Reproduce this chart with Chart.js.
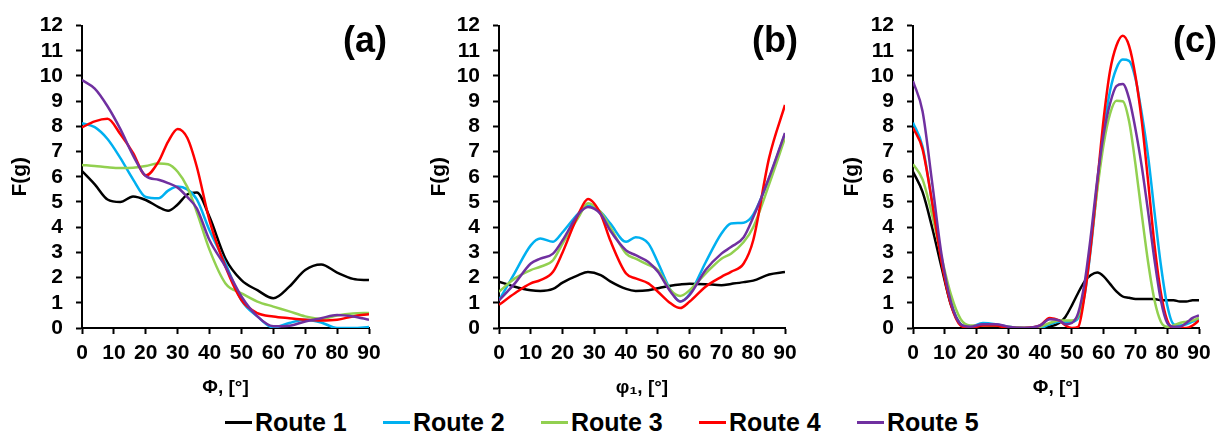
<!DOCTYPE html>
<html>
<head>
<meta charset="utf-8">
<script src="https://cdn.jsdelivr.net/npm/chart.js@4.4.1/dist/chart.umd.min.js"></script>
<style>
  body { margin: 0; background: #fff; }
  #wrap { position: relative; width: 1222px; height: 434px; overflow: hidden; font-family: "Liberation Sans", Arial, sans-serif; }
  canvas { position: absolute; top: 0; }
  .tag { position: absolute; top: 20px; font-size: 36px; line-height: 40px; font-weight: bold; text-align: right; width: 80px; }
  #legend { position: absolute; left: 0; top: 408px; width: 1222px; height: 28px; font-size: 25px; font-weight: bold; line-height: 28px; }
  #legend .item { position: absolute; top: 0; display: flex; align-items: center; white-space: nowrap; }
  #legend .swatch { width: 27px; height: 3px; margin-right: 3px; }
</style>
</head>
<body>
<div id="wrap">
  <canvas id="pa" width="400" height="400" style="left:0px"></canvas>
  <canvas id="pb" width="400" height="400" style="left:419px"></canvas>
  <canvas id="pc" width="390" height="400" style="left:832px"></canvas>
  <div class="tag" style="left:307px">(a)</div>
  <div class="tag" style="left:718px">(b)</div>
  <div class="tag" style="left:1137px">(c)</div>
  <div id="legend"></div>
</div>
<script>
// route names and line colours
const routeNames = ['Route 1', 'Route 2', 'Route 3', 'Route 4', 'Route 5'];
const routeColors = ['#000000', '#00B0F0', '#92D050', '#FF0000', '#7030A0'];

// panel (a): F(g) vs Φ
const aX = [0, 4, 8, 12, 16, 20, 24, 27, 30, 33, 36, 40, 45, 50, 55, 60, 65, 70, 75, 80, 85, 90];
const aR1 = [6.23, 5.7, 5.1, 5.0, 5.22, 5.08, 4.8, 4.65, 4.9, 5.3, 5.38, 4.4, 2.75, 1.9, 1.5, 1.18, 1.64, 2.3, 2.52, 2.2, 1.95, 1.9];
const aR2 = [8.13, 7.97, 7.5, 6.75, 5.9, 5.2, 5.15, 5.45, 5.62, 5.5, 5.1, 3.87, 2.56, 1.1, 0.46, 0.02, 0.2, 0.33, 0.22, 0.0, 0.0, 0.04];
const aR3 = [6.47, 6.43, 6.38, 6.35, 6.36, 6.43, 6.53, 6.5, 6.2, 5.6, 4.6, 3.1, 1.77, 1.38, 1.05, 0.85, 0.66, 0.46, 0.36, 0.5, 0.58, 0.6];
const aR4 = [7.96, 8.2, 8.3, 7.7, 6.95, 6.05, 6.6, 7.4, 7.9, 7.55, 6.4, 4.26, 2.43, 1.11, 0.59, 0.46, 0.39, 0.33, 0.3, 0.33, 0.46, 0.55];
const aR5 = [9.84, 9.5, 8.8, 7.9, 6.85, 6.03, 5.88, 5.75, 5.57, 5.2, 4.75, 3.48, 2.43, 1.25, 0.46, 0.07, 0.09, 0.26, 0.39, 0.52, 0.46, 0.33];

// panel (b): F(g) vs φ1
const bX = [0, 5, 10, 13, 17, 20, 25, 28, 32, 35, 40, 43, 47, 50, 54, 57, 60, 65, 70, 73, 77, 80, 85, 90];
const bR1 = [1.84, 1.64, 1.5, 1.47, 1.55, 1.8, 2.1, 2.22, 2.1, 1.85, 1.55, 1.47, 1.5, 1.58, 1.68, 1.73, 1.76, 1.74, 1.7, 1.75, 1.82, 1.88, 2.12, 2.22];
const bR2 = [1.1, 2.2, 3.28, 3.55, 3.42, 3.8, 4.55, 4.85, 4.6, 4.15, 3.42, 3.6, 3.35, 2.6, 1.5, 1.05, 1.35, 2.6, 3.75, 4.15, 4.18, 4.5, 5.95, 7.7];
const bR3 = [1.44, 1.97, 2.3, 2.43, 2.69, 3.35, 4.39, 4.95, 4.6, 4.0, 2.95, 2.75, 2.5, 2.3, 1.5, 1.27, 1.5, 2.16, 2.75, 2.95, 3.41, 4.0, 5.7, 7.54];
const bR4 = [0.92, 1.38, 1.77, 1.9, 2.23, 3.0, 4.52, 5.12, 4.52, 3.48, 2.16, 1.97, 1.77, 1.44, 0.98, 0.79, 1.05, 1.64, 2.03, 2.23, 2.56, 3.48, 6.75, 8.85];
const bR5 = [1.1, 1.77, 2.56, 2.75, 2.95, 3.48, 4.52, 4.8, 4.52, 3.87, 3.08, 2.89, 2.62, 2.23, 1.44, 1.05, 1.31, 2.3, 2.95, 3.21, 3.6, 4.39, 5.97, 7.74];

// panel (c): F(g) vs Φ
const cX = [0, 3, 6, 9, 12, 15, 18, 22, 26, 30, 35, 40, 43, 46, 48, 50, 52, 54, 56, 58, 60, 62, 64, 66, 68, 70, 72, 74, 76, 78, 80, 82, 84, 86, 88, 90];
const cR1 = [6.2, 5.4, 4.0, 2.4, 0.9, 0.15, 0.0, 0.0, 0.05, 0.0, 0.0, 0.0, 0.05, 0.2, 0.45, 0.9, 1.4, 1.85, 2.1, 2.2, 2.05, 1.75, 1.45, 1.25, 1.2, 1.15, 1.15, 1.15, 1.15, 1.1, 1.1, 1.1, 1.05, 1.05, 1.1, 1.1];
const cR2 = [8.15, 7.2, 5.0, 2.7, 1.0, 0.15, 0.05, 0.2, 0.15, 0.05, 0.0, 0.0, 0.15, 0.25, 0.25, 0.25, 0.4, 1.3, 3.2, 5.6, 7.8, 9.4, 10.3, 10.65, 10.6, 9.9, 8.5, 6.8, 4.6, 2.5, 0.9, 0.15, 0.1, 0.15, 0.25, 0.35];
const cR3 = [6.5, 5.9, 4.5, 2.8, 1.3, 0.35, 0.1, 0.1, 0.1, 0.05, 0.0, 0.05, 0.2, 0.3, 0.3, 0.3, 0.5, 1.5, 3.4, 5.5, 7.3, 8.5, 9.02, 9.0, 8.2, 6.5, 4.5, 2.6, 1.1, 0.25, 0.05, 0.1, 0.2, 0.25, 0.3, 0.4];
const cR4 = [7.95, 7.1, 5.0, 2.6, 0.9, 0.1, 0.0, 0.1, 0.1, 0.0, 0.0, 0.1, 0.4, 0.3, 0.1, 0.0, 0.05, 1.3, 3.3, 5.8, 8.3, 10.2, 11.2, 11.6, 11.2, 10.0, 8.2, 5.8, 3.3, 1.4, 0.3, 0.0, 0.0, 0.0, 0.1, 0.3];
const cR5 = [9.8, 8.6, 5.8, 2.9, 1.0, 0.15, 0.05, 0.15, 0.15, 0.05, 0.0, 0.1, 0.35, 0.3, 0.15, 0.2, 0.6, 1.8, 3.7, 5.9, 7.7, 8.9, 9.6, 9.68, 9.1, 7.9, 6.4, 4.6, 2.7, 1.1, 0.2, 0.05, 0.05, 0.2, 0.4, 0.5];

// axis ticks
const xTicks = { min: 0, max: 90, step: 10 };
const yTicks = { min: 0, max: 12, step: 1 };

const FONT = '"Liberation Sans", Arial, sans-serif';

function makePanel(id, xs, series, xTitle, yAxisWidth, rightPad) {
  const datasets = series.map((ys, i) => ({
    label: routeNames[i],
    data: xs.map((x, k) => ({ x: x, y: ys[k] })),
    borderColor: routeColors[i],
    borderWidth: 2.5,
    pointRadius: 0,
    fill: false,
    cubicInterpolationMode: 'monotone',
    order: series.length - i   // later routes on top
  }));

  const axisLook = {
    grid: { drawOnChartArea: false, drawTicks: true, tickLength: 6, tickWidth: 2, color: '#000' },
    border: { display: true, color: '#000', width: 2 }
  };
  const tickFont = { family: FONT, size: 21, weight: 'bold' };

  return new Chart(document.getElementById(id), {
    type: 'line',
    data: { datasets },
    options: {
      responsive: false,
      animation: false,
      layout: { padding: { top: 23, right: rightPad, bottom: 0, left: 0 } },
      plugins: { legend: { display: false }, tooltip: { enabled: false } },
      scales: {
        x: {
          type: 'linear',
          min: xTicks.min, max: xTicks.max,
          ...axisLook,
          ticks: { stepSize: xTicks.step, autoSkip: false, maxRotation: 0, padding: 7, color: '#000', font: tickFont },
          title: { display: true, text: xTitle, color: '#000', padding: { top: 0, bottom: 1 }, font: { family: FONT, size: 19, weight: 'bold' } },
          afterFit(scale) { scale.height = 72; }
        },
        y: {
          min: yTicks.min, max: yTicks.max,
          ...axisLook,
          ticks: { stepSize: yTicks.step, autoSkip: false, padding: 13, color: '#000', font: tickFont },
          title: { display: true, text: 'F(g)', color: '#000', padding: { top: 8, bottom: 0 }, font: { family: FONT, size: 21, weight: 'bold' } },
          afterFit(scale) { scale.width = yAxisWidth; }
        }
      }
    }
  });
}

makePanel('pa', aX, [aR1, aR2, aR3, aR4, aR5], 'Φ, [°]', 82, 31);
makePanel('pb', bX, [bR1, bR2, bR3, bR4, bR5], 'φ₁, [°]', 80, 34);
makePanel('pc', cX, [cR1, cR2, cR3, cR4, cR5], 'Φ, [°]', 81, 23);

// shared legend under the panels, one entry every 158px
const legend = document.getElementById('legend');
routeNames.forEach((name, i) => {
  const item = document.createElement('div');
  item.className = 'item';
  item.style.left = (225 + i * 158) + 'px';
  const sw = document.createElement('span');
  sw.className = 'swatch';
  sw.style.background = routeColors[i];
  const txt = document.createElement('span');
  txt.textContent = name;
  item.appendChild(sw);
  item.appendChild(txt);
  legend.appendChild(item);
});
</script>
</body>
</html>
